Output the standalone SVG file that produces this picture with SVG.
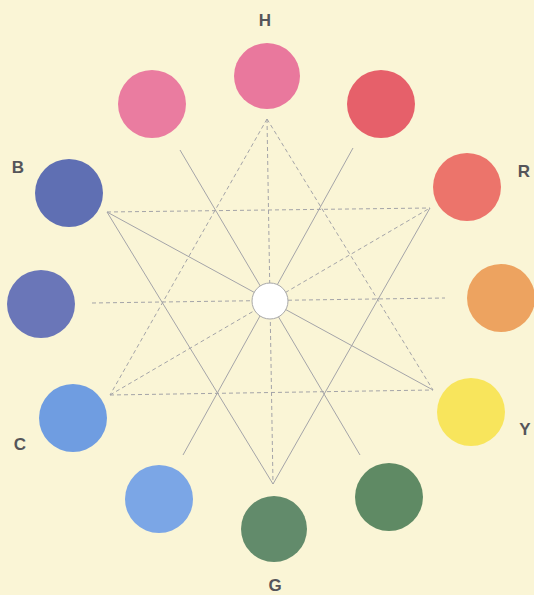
<svg xmlns="http://www.w3.org/2000/svg" width="534" height="595" viewBox="0 0 534 595">
<style>
.s{stroke:#a4a4a8;stroke-width:1;fill:none}
.d{stroke:#a4a4a8;stroke-width:1;fill:none;stroke-dasharray:4 3}
.lbl{font-family:"Liberation Sans",Arial,sans-serif;font-weight:bold;font-size:17px;fill:#55555a;text-anchor:middle}
</style>
<rect width="534" height="595" fill="#faf5d6"/>
<g id="connectors">
<line class="d" x1="107" y1="212" x2="430" y2="208"/>
<line class="d" x1="110" y1="395" x2="433" y2="390"/>
<line class="d" x1="267" y1="119" x2="110" y2="395"/>
<line class="d" x1="267" y1="119" x2="433" y2="390"/>
<line class="s" x1="273" y1="484" x2="107" y2="212"/>
<line class="s" x1="273" y1="484" x2="430" y2="208"/>
<line class="s" x1="180" y1="150" x2="360" y2="455"/>
<line class="s" x1="353" y1="148" x2="183" y2="455"/>
<line class="d" x1="92" y1="303" x2="445" y2="298"/>
<line class="d" x1="267" y1="119" x2="273" y2="484"/>
<line class="d" x1="110" y1="395" x2="430" y2="208"/>
<line class="s" x1="107" y1="212" x2="433" y2="390"/>
</g>
<g id="center"><circle cx="270" cy="301" r="18" fill="#ffffff" stroke="#a8a8a8" stroke-width="1"/></g>
<g id="n-H"><circle cx="267" cy="76" r="33" fill="#e9789d"/><text class="lbl" x="265" y="26">H</text></g>
<g id="n-HR"><circle cx="381" cy="104" r="34" fill="#e6606a"/></g>
<g id="n-R"><circle cx="467" cy="187" r="34" fill="#ec746b"/><text class="lbl" x="524" y="177">R</text></g>
<g id="n-RY"><circle cx="501" cy="298" r="34" fill="#eda360"/></g>
<g id="n-Y"><circle cx="471" cy="412" r="34" fill="#f8e55c"/><text class="lbl" x="525" y="435">Y</text></g>
<g id="n-YG"><circle cx="389" cy="497" r="34" fill="#5f8a64"/></g>
<g id="n-G"><circle cx="274" cy="529" r="33" fill="#628b6b"/><text class="lbl" x="275" y="591">G</text></g>
<g id="n-GC"><circle cx="159" cy="499" r="34" fill="#7ba6e6"/></g>
<g id="n-C"><circle cx="73" cy="418" r="34" fill="#6f9de1"/><text class="lbl" x="20" y="450">C</text></g>
<g id="n-CB"><circle cx="41" cy="304" r="34" fill="#6a76b8"/></g>
<g id="n-B"><circle cx="69" cy="193" r="34" fill="#5f6fb3"/><text class="lbl" x="18" y="173">B</text></g>
<g id="n-BH"><circle cx="152" cy="104" r="34" fill="#ea7ca0"/></g>
</svg>
